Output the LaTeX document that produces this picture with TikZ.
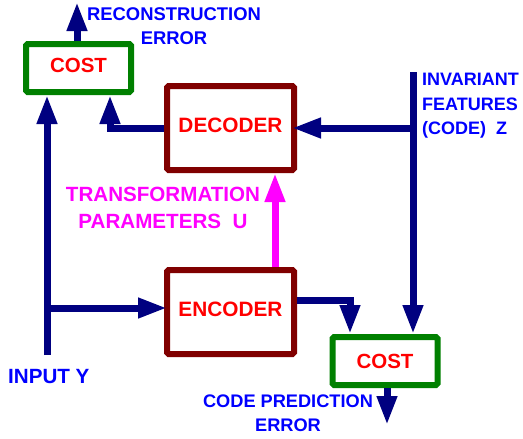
\documentclass[tikz,border=0pt]{standalone}
\usepackage{fontspec}
\setmainfont{Liberation Sans}
\usetikzlibrary{arrows.meta}
\definecolor{navyc}{RGB}{0,0,128}
\definecolor{greenc}{RGB}{0,128,0}
\definecolor{maroonc}{RGB}{128,0,0}
\definecolor{bluec}{RGB}{0,0,255}
\definecolor{redc}{RGB}{255,0,0}
\definecolor{magc}{RGB}{255,0,255}
\tikzset{
  costbox/.style={draw=greenc, line width=6pt, rounded corners=1.5pt, minimum width=105pt, minimum height=48pt, inner sep=0pt, text=redc, font=\fontsize{20.5}{24}\selectfont\bfseries},
  codbox/.style={draw=maroonc, line width=6pt, rounded corners=1.5pt, minimum width=127pt, minimum height=84pt, inner sep=0pt, text=redc, font=\fontsize{20.8}{24}\selectfont\bfseries},
  lift/.style={text height=15pt, text depth=7pt},
  arr/.style={draw=navyc, line width=7pt, -{Triangle[length=29pt,width=19pt]}},
  marr/.style={draw=magc, line width=7pt, -{Triangle[length=29pt,width=19pt]}},
  bluetxt/.style={text=bluec, inner sep=0pt},
}
\begin{document}
\begin{tikzpicture}[x=1pt,y=-1pt]
\useasboundingbox (0,0) rectangle (523,439);
% boxes
\node[costbox, lift] (cost1) at (78.5,68) {COST};
\node[codbox, lift] (dec) at (230.5,128) {DECODER};
\node[codbox, lift] (enc) at (230.5,312) {ENCODER};
\node[costbox] (cost2) at (385,361) {COST};
% free ends
\coordinate (reconerr) at (77,2);
\coordinate (inY) at (47,355);
\coordinate (br) at (47,308);
\coordinate (ztop) at (413,72);
\coordinate (cperr) at (387,425);
% connectors
\draw[arr] (cost1.north -| reconerr) -- (reconerr);
\draw[arr] (inY) -- (inY |- cost1.south);
\draw[arr] (br) -- ([xshift=3pt]br -| enc.west);
\draw[arr] (ztop) -- (ztop |- cost2.north);
\draw[arr] (ztop |- dec.east) -- ([xshift=-5pt]dec.east);
\draw[arr] (dec.west) -| ([xshift=31.5pt]cost1.south);
\draw[arr] ([yshift=12pt]enc.east) -| ([xshift=-35pt]cost2.north);
\draw[arr] (cost2.south -| cperr) -- (cperr);
\draw[marr] ([xshift=44.5pt]enc.north) -- ([xshift=44.5pt]dec.south);
% labels
\node[bluetxt, align=center, anchor=north, font=\fontsize{18.4}{24}\selectfont\bfseries] (recon) at (174,7.5) {RECONSTRUCTION\\ERROR};
\node[bluetxt, align=left, anchor=north west, font=\fontsize{18}{24.5}\selectfont\bfseries] (inv) at (422,73) {INVARIANT\\FEATURES\\(CODE)\ \ Z};
\node[text=magc, inner sep=0pt, align=center, anchor=north, font=\fontsize{20.6}{27}\selectfont\bfseries] (trans) at (163,187) {TRANSFORMATION\\PARAMETERS\ \ U};
\node[bluetxt, anchor=north west, font=\fontsize{20.6}{24}\selectfont\bfseries] (input) at (8,369.5) {INPUT Y};
\node[bluetxt, align=center, anchor=north, font=\fontsize{18.2}{24}\selectfont\bfseries] (cpe) at (288,395) {CODE PREDICTION\\ERROR};
\end{tikzpicture}
\end{document}
